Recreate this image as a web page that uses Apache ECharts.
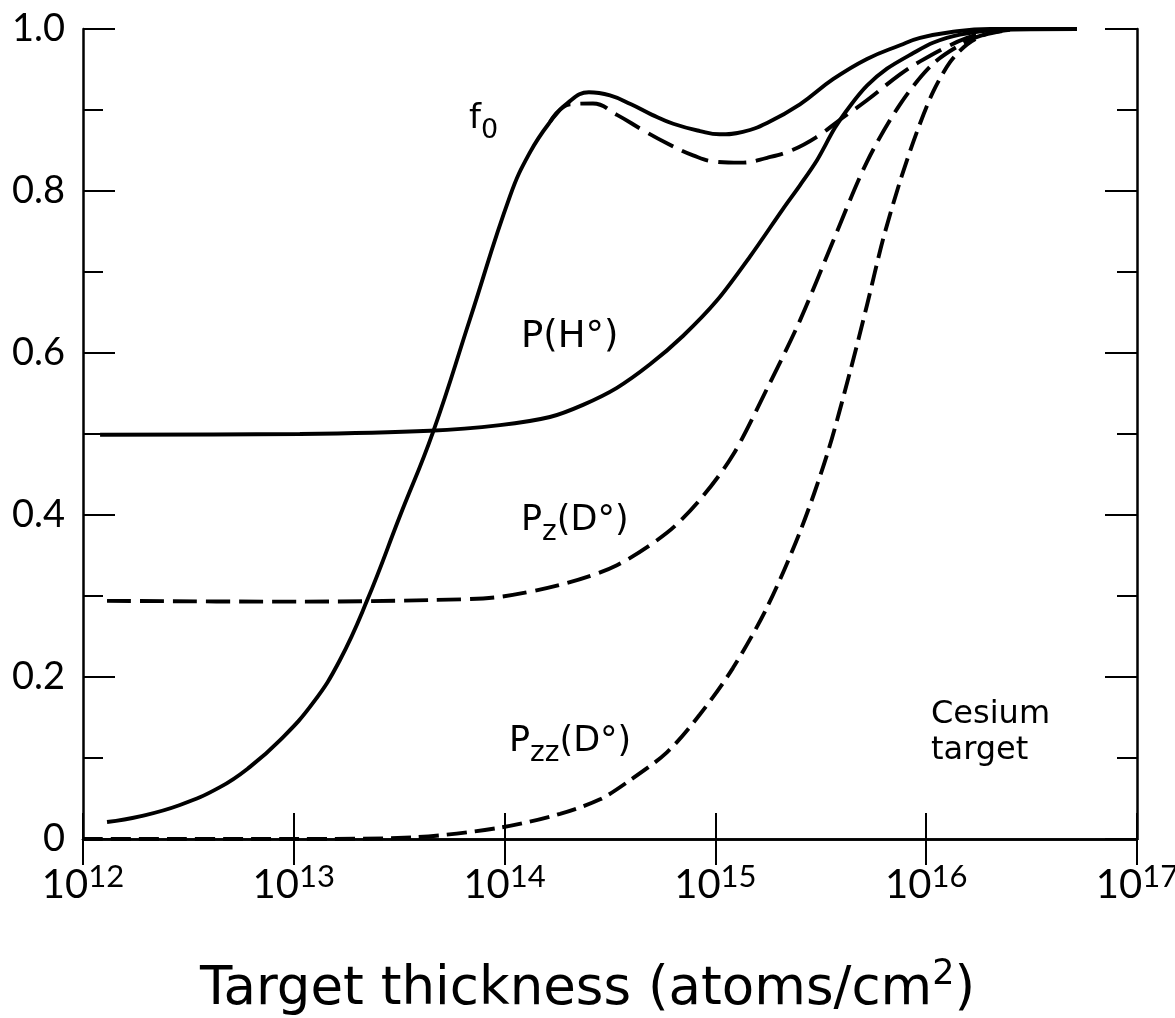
<!DOCTYPE html>
<html>
<head>
<meta charset="utf-8">
<title>Target thickness</title>
<script src="https://cdn.jsdelivr.net/npm/echarts@6.0.0/dist/echarts.min.js"></script>
<style>
  html, body { margin: 0; padding: 0; background: #fff; }
  #chart { width: 1175px; height: 1018px; }
</style>
</head>
<body>
<div id="chart"></div>
<script>
// thickness kept as log10(atoms/cm^2), values are fractions
const f0HExp = [12.114, 12.270, 12.460, 12.650, 12.792, 12.935, 13.091, 13.219, 13.347, 13.504, 13.660, 13.836, 14.026, 14.121, 14.215, 14.300, 14.400, 14.500, 14.600, 14.700, 14.800, 14.927, 15.020, 15.130, 15.245, 15.401, 15.558, 15.719, 15.876, 15.971, 16.113, 16.303, 16.715]
const f0HVal = [0.021, 0.028, 0.042, 0.064, 0.089, 0.122, 0.168, 0.221, 0.294, 0.399, 0.502, 0.642, 0.794, 0.848, 0.885, 0.909, 0.922, 0.918, 0.907, 0.894, 0.883, 0.874, 0.870, 0.873, 0.884, 0.907, 0.938, 0.963, 0.980, 0.989, 0.996, 1.0, 1.0]

const f0DExp = [14.215, 14.310, 14.419, 14.533, 14.657, 14.770, 14.894, 15.008, 15.117, 15.245, 15.368, 15.482, 15.591, 15.719, 15.876, 15.971, 16.113, 16.194, 16.280, 16.350]
const f0DVal = [0.885, 0.907, 0.908, 0.894, 0.875, 0.859, 0.844, 0.836, 0.835, 0.841, 0.851, 0.867, 0.888, 0.912, 0.944, 0.960, 0.980, 0.989, 0.996, 1.0]

const pHExp = [12.081, 13.029, 13.646, 13.978, 14.215, 14.372, 14.533, 14.690, 14.846, 15.008, 15.164, 15.321, 15.401, 15.482, 15.567, 15.639, 15.719, 15.814, 15.937, 16.032, 16.160, 16.350, 16.715]
const pHVal = [0.499, 0.500, 0.504, 0.511, 0.521, 0.536, 0.557, 0.586, 0.621, 0.665, 0.719, 0.778, 0.807, 0.838, 0.878, 0.905, 0.930, 0.951, 0.970, 0.983, 0.993, 0.999, 1.0]

const pzExp = [12.114, 13.029, 13.646, 13.978, 14.296, 14.533, 14.770, 14.927, 15.083, 15.245, 15.401, 15.558, 15.719, 15.876, 16.032, 16.194, 16.303, 16.397]
const pzVal = [0.294, 0.293, 0.295, 0.299, 0.316, 0.338, 0.378, 0.419, 0.474, 0.556, 0.640, 0.738, 0.836, 0.907, 0.957, 0.985, 0.995, 0.999]

const pzzExp = [12.0, 13.029, 13.565, 13.978, 14.263, 14.453, 14.581, 14.770, 14.927, 15.083, 15.245, 15.401, 15.529, 15.639, 15.719, 15.795, 15.876, 15.956, 16.032, 16.113, 16.194, 16.279, 16.397]
const pzzVal = [0, 0, 0.002, 0.014, 0.031, 0.049, 0.070, 0.107, 0.154, 0.211, 0.286, 0.379, 0.474, 0.577, 0.659, 0.740, 0.812, 0.873, 0.922, 0.959, 0.981, 0.993, 0.999]

const xMin = 1e12
const xMax = 1e17
const yTicks = [0, 0.2, 0.4, 0.6, 0.8, 1.0]

const tickFont = 'Lato, "Noto Sans", sans-serif'
const textFont = '"DejaVu Sans", sans-serif'

function toPairs(exps, vals) {
  return exps.map((e, i) => [Math.pow(10, e), vals[i]])
}

function lineSeries(name, exps, vals, type, smooth) {
  return {
    name: name,
    type: 'line',
    data: toPairs(exps, vals),
    symbol: 'none',
    smooth: smooth,
    clip: false,
    lineStyle: { color: '#000', width: 3.9, type: type },
    z: 3
  }
}

const chart = echarts.init(document.getElementById('chart'), null, { renderer: 'canvas' })

const tickStyle = { color: '#000', width: 2 }
const axisLineStyle = { color: '#000', width: 2.5 }

// sub/superscript helpers for rich text
const subRich = function (base, sub) {
  return {
    a: { fontFamily: textFont, fontSize: base, lineHeight: base + 4, verticalAlign: 'top', fill: '#000' },
    s: { fontFamily: textFont, fontSize: sub, lineHeight: sub, padding: [Math.round(base * 0.45), 0, 0, 0], verticalAlign: 'top', fill: '#000' }
  }
}

chart.setOption({
  backgroundColor: '#fff',
  animation: false,
  textStyle: { fontFamily: textFont, color: '#000' },
  grid: {
    left: 83, right: 38, top: 29, bottom: 179,
    containLabel: false,
    outerBoundsMode: 'none'
  },
  xAxis: [{
    type: 'log',
    logBase: 10,
    min: xMin,
    max: xMax,
    position: 'bottom',
    axisLine: { lineStyle: axisLineStyle },
    axisTick: { inside: true, length: 26, lineStyle: tickStyle },
    splitLine: { show: false },
    axisLabel: {
      margin: 22,
      color: '#000',
      formatter: function (v) {
        const e = Math.round(Math.log10(v))
        return '{b|10}{s|' + e + '}'
      },
      rich: {
        b: { fontFamily: tickFont, fontSize: 40, lineHeight: 44, verticalAlign: 'bottom', color: '#000' },
        s: { fontFamily: tickFont, fontSize: 31, lineHeight: 31, verticalAlign: 'top', color: '#000' }
      }
    }
  }, {
    type: 'log',
    logBase: 10,
    min: xMin,
    max: xMax,
    position: 'top',
    axisLine: { lineStyle: axisLineStyle },
    axisTick: { inside: true, length: 26, lineStyle: tickStyle },
    splitLine: { show: false },
    axisLabel: { show: false }
  }],
  yAxis: [{
    type: 'value',
    min: yTicks[0],
    max: yTicks[yTicks.length - 1],
    interval: 0.2,
    position: 'left',
    axisLine: { show: true, lineStyle: axisLineStyle },
    axisTick: { show: true, inside: true, length: 32, lineStyle: tickStyle },
    minorTick: { show: true, splitNumber: 2, length: 20, lineStyle: tickStyle },
    splitLine: { show: false },
    axisLabel: {
      margin: 18,
      color: '#000',
      fontFamily: tickFont,
      fontSize: 38,
      formatter: function (v) { return v === 0 ? '0' : v.toFixed(1) }
    }
  }, {
    type: 'value',
    min: yTicks[0],
    max: yTicks[yTicks.length - 1],
    interval: 0.2,
    position: 'right',
    axisLine: { show: true, lineStyle: axisLineStyle },
    axisTick: { show: true, inside: true, length: 32, lineStyle: tickStyle },
    minorTick: { show: true, splitNumber: 2, length: 20, lineStyle: tickStyle },
    splitLine: { show: false },
    axisLabel: { show: false }
  }],
  series: [
    lineSeries('f0 (H°)', f0HExp, f0HVal, 'solid', 0.45),
    lineSeries('f0 (D°)', f0DExp, f0DVal, [28, 10], 0.45),
    lineSeries('P(H°)', pHExp, pHVal, 'solid', 0.3),
    lineSeries('Pz(D°)', pzExp, pzVal, [24, 9], 0.3),
    lineSeries('Pzz(D°)', pzzExp, pzzVal, [20, 8], 0.3)
  ],
  graphic: [
    {
      type: 'text', left: 469, top: 102,
      style: { text: '{a|f}{s|0}', rich: subRich(34, 27) }
    },
    {
      type: 'text', left: 521, top: 319,
      style: { text: 'P(H°)', fontFamily: textFont, fontSize: 37, fill: '#000' }
    },
    {
      type: 'text', left: 521, top: 503,
      style: { text: '{a|P}{s|z}{a|(D°)}', rich: subRich(35, 28) }
    },
    {
      type: 'text', left: 509, top: 724,
      style: { text: '{a|P}{s|zz}{a|(D°)}', rich: subRich(35, 28) }
    },
    {
      type: 'text', left: 931, top: 697,
      style: { text: 'Cesium\ntarget', fontFamily: textFont, fontSize: 32, lineHeight: 36, fill: '#000' }
    },
    {
      type: 'text', left: 'center', top: 957,
      style: {
        text: '{a|Target thickness (atoms/cm}{s|2}{a|)}',
        rich: {
          a: { fontFamily: textFont, fontSize: 53, lineHeight: 60, verticalAlign: 'bottom', fill: '#000' },
          s: { fontFamily: textFont, fontSize: 35, lineHeight: 35, verticalAlign: 'top', fill: '#000' }
        }
      }
    }
  ]
})
</script>
</body>
</html>
